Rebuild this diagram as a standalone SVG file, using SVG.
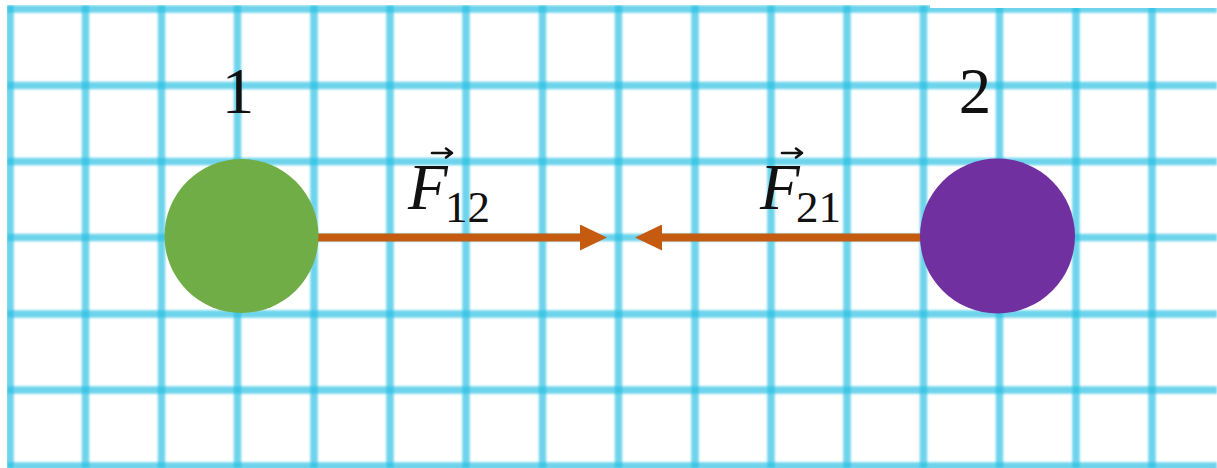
<svg xmlns="http://www.w3.org/2000/svg" width="1217" height="468" viewBox="0 0 1217 468">
  <defs>
    <style>
      .grid line { stroke: #2bbfe3; stroke-opacity: 0.68; stroke-width: 7.5; }
      .lbl { font-family: "Liberation Serif", "DejaVu Serif", serif; fill: #111; }
      .num { font-size: 65px; text-anchor: middle; }
      .F { font-size: 65px; font-style: italic; }
      .sub { font-size: 45px; }
      .vec { stroke: #111; stroke-width: 2.6; fill: none; stroke-linecap: round; stroke-linejoin: round; }
      .force { stroke: #C55A11; stroke-width: 8; fill: none; }
    </style>
    <filter id="soft" x="-5%" y="-5%" width="110%" height="110%">
      <feGaussianBlur stdDeviation="1.1"/>
    </filter>
    <marker id="head" viewBox="0 0 27 26" refX="2" refY="13" markerWidth="27" markerHeight="26" markerUnits="userSpaceOnUse" orient="auto">
      <path d="M0,0 L27,13 L0,26 Z" fill="#C55A11"/>
    </marker>
  </defs>

  <rect width="1217" height="468" fill="#ffffff"/>

  <g class="grid" filter="url(#soft)">
    <line x1="10" y1="5" x2="10" y2="468"/>
    <line x1="85.5" y1="5" x2="85.5" y2="468"/>
    <line x1="161.5" y1="5" x2="161.5" y2="468"/>
    <line x1="237.5" y1="5" x2="237.5" y2="468"/>
    <line x1="314" y1="5" x2="314" y2="468"/>
    <line x1="390" y1="5" x2="390" y2="468"/>
    <line x1="466" y1="5" x2="466" y2="468"/>
    <line x1="542.5" y1="5" x2="542.5" y2="468"/>
    <line x1="618.5" y1="5" x2="618.5" y2="468"/>
    <line x1="695" y1="5" x2="695" y2="468"/>
    <line x1="771" y1="5" x2="771" y2="468"/>
    <line x1="847" y1="5" x2="847" y2="468"/>
    <line x1="923.5" y1="5" x2="923.5" y2="468"/>
    <line x1="999.5" y1="5" x2="999.5" y2="468"/>
    <line x1="1076" y1="5" x2="1076" y2="468"/>
    <line x1="1152" y1="5" x2="1152" y2="468"/>
    <line x1="7" y1="9" x2="1217" y2="9"/>
    <line x1="7" y1="85.5" x2="1217" y2="85.5"/>
    <line x1="7" y1="161.5" x2="1217" y2="161.5"/>
    <line x1="7" y1="237.5" x2="1217" y2="237.5"/>
    <line x1="7" y1="314" x2="1217" y2="314"/>
    <line x1="7" y1="390" x2="1217" y2="390"/>
    <line x1="7" y1="466" x2="1217" y2="466"/>
  </g>
  <rect x="0" y="0" width="7" height="468" fill="#ffffff"/>
  <rect x="0" y="0" width="1217" height="5" fill="#ffffff"/>
  <rect x="930" y="0" width="287" height="8" fill="#ffffff"/>

  <g id="connectors">
    <line id="f12" class="force" x1="318" y1="237.5" x2="582" y2="237.5" marker-end="url(#head)"/>
    <line id="f21" class="force" x1="921" y1="237.5" x2="660" y2="237.5" marker-end="url(#head)"/>
  </g>

  <g id="node1">
    <circle cx="241.5" cy="236" r="77" fill="#70AD47"/>
    <text class="lbl num" x="238" y="113">1</text>
  </g>

  <g id="node2">
    <circle cx="997.5" cy="236" r="77.5" fill="#7030A0"/>
    <text class="lbl num" x="975" y="113">2</text>
  </g>

  <g id="label-f12">
    <path class="vec" d="M432,153 L452,153 M446,148.5 L452,153 L446,157.5"/>
    <text class="lbl F" x="408" y="209">F</text>
    <text class="lbl sub" x="445" y="222">12</text>
  </g>

  <g id="label-f21">
    <path class="vec" d="M782,153 L802,153 M796,148.5 L802,153 L796,157.5"/>
    <text class="lbl F" x="760" y="209">F</text>
    <text class="lbl sub" x="796" y="222">21</text>
  </g>
</svg>
